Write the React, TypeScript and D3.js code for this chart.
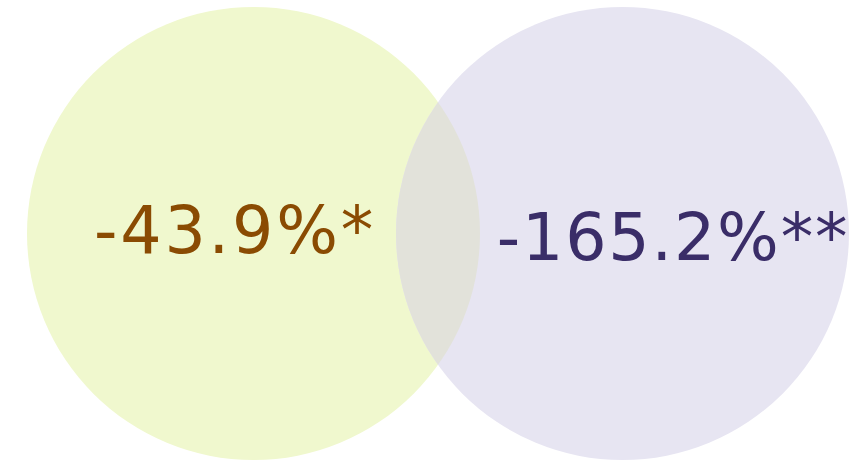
import React from "react";
import * as d3 from "d3";

const sets = ["A", "B"];
const labels = ["-43.9%*", "-165.2%**"];
const fills = ["#F0F8CE", "#E7E5F2"];
const overlapFill = "#E2E2DA";
const textColors = ["#8A4B02", "#3A2D68"];

const W = 851;
const H = 460;

export default function App() {
  const x = d3.scalePoint<string>().domain(sets).range([253.5, 622.5]);
  const r = 226.5;
  const cy = 233.5;
  const centers = sets.map((s) => x(s) as number);
  const labelDx = [-18.5, 50.5];
  const labelY = [253, 260];
  const spacing = [2.8, 1.8];
  return (
    <svg width={W} height={H} style={{ position: "absolute", left: 0, top: 0 }}>
      <defs>
        <clipPath id="clipA">
          <circle cx={centers[0]} cy={cy} r={r} />
        </clipPath>
      </defs>
      {sets.map((s, i) => (
        <circle key={s} cx={centers[i]} cy={cy} r={r} fill={fills[i]} />
      ))}
      <circle cx={centers[1]} cy={cy} r={r} fill={overlapFill} clipPath="url(#clipA)" />
      {labels.map((t, i) => (
        <text
          key={t}
          x={centers[i] + labelDx[i]}
          y={labelY[i]}
          textAnchor="middle"
          fill={textColors[i]}
          style={{ fontFamily: "Verdana, 'DejaVu Sans', sans-serif", fontSize: 65, letterSpacing: spacing[i] }}
        >
          {t}
        </text>
      ))}
    </svg>
  );
}
